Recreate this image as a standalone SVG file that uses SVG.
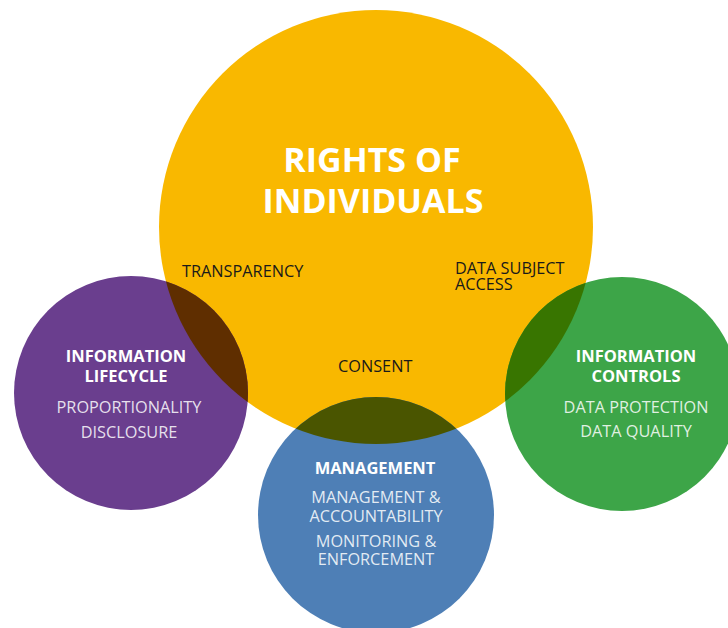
<svg xmlns="http://www.w3.org/2000/svg" width="728" height="628" viewBox="0 0 728 628">
<style>
text{font-family:"Open Sans","Liberation Sans",sans-serif;text-anchor:middle}
.title{font-size:34px;font-weight:700;fill:#fff}
.head{font-size:16.5px;font-weight:700;fill:#fff}
.sub{font-size:16.3px;fill:#fff;fill-opacity:0.85}
.lbl{font-size:16.3px;font-weight:500;fill:#1a1a1a;text-anchor:start}
</style>
<defs>
<clipPath id="clipY"><circle cx="376" cy="227" r="217"/></clipPath>
</defs>
<rect width="728" height="628" fill="#fff"/>
<g id="rights">
<circle cx="376" cy="227" r="217" fill="#F9B800"/>
</g>
<g id="lifecycle">
<circle cx="131" cy="393" r="117" fill="#6A3E8E"/>
</g>
<g id="management">
<circle cx="376" cy="515" r="118" fill="#4E7FB6"/>
</g>
<g id="controls">
<circle cx="622" cy="394" r="117" fill="#3DA548"/>
</g>
<g id="overlaps" clip-path="url(#clipY)">
<circle cx="131" cy="393" r="117" fill="#5F2E00"/>
<circle cx="376" cy="515" r="118" fill="#4A5500"/>
<circle cx="622" cy="394" r="117" fill="#387500"/>
</g>
<g id="connectors"/>
<g id="rights-text">
<text class="title" x="372" y="172">RIGHTS OF</text>
<text class="title" x="373" y="213">INDIVIDUALS</text>
<text class="lbl" x="182" y="277">TRANSPARENCY</text>
<text class="lbl" x="455" y="274">DATA SUBJECT</text>
<text class="lbl" x="455" y="290">ACCESS</text>
<text class="lbl" x="338" y="372">CONSENT</text>
</g>
<g id="lifecycle-text">
<text class="head" x="126" y="362">INFORMATION</text>
<text class="head" x="126" y="382">LIFECYCLE</text>
<text class="sub" x="129" y="413">PROPORTIONALITY</text>
<text class="sub" x="129" y="438">DISCLOSURE</text>
</g>
<g id="management-text">
<text class="head" x="375" y="474">MANAGEMENT</text>
<text class="sub" x="376" y="503">MANAGEMENT &amp;</text>
<text class="sub" x="376" y="522">ACCOUNTABILITY</text>
<text class="sub" x="376" y="547">MONITORING &amp;</text>
<text class="sub" x="376" y="565">ENFORCEMENT</text>
</g>
<g id="controls-text">
<text class="head" x="636" y="362">INFORMATION</text>
<text class="head" x="636" y="382">CONTROLS</text>
<text class="sub" x="636" y="413">DATA PROTECTION</text>
<text class="sub" x="636" y="437">DATA QUALITY</text>
</g>
</svg>
